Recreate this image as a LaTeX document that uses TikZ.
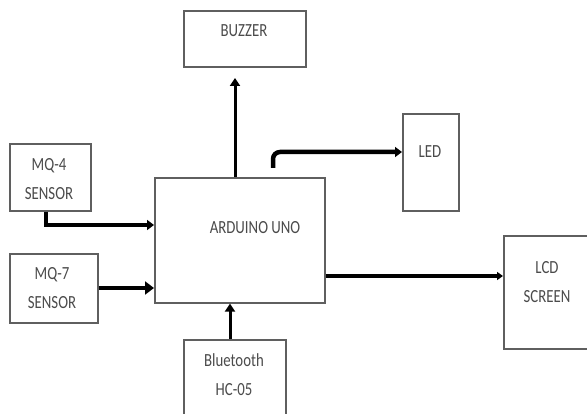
\documentclass[tikz,border=0pt]{standalone}
\usepackage{fontspec}
\setmainfont{Carlito}[FakeStretch=0.8]
\usetikzlibrary{arrows.meta}
\definecolor{boxgray}{RGB}{95,95,95}
\definecolor{txtgray}{RGB}{75,75,75}
\begin{document}
\begin{tikzpicture}[x=1pt,y=-1pt,
  box/.style={draw=boxgray,line width=1.6pt,inner sep=0pt,anchor=north west},
  txt/.style={text=txtgray,font=\fontsize{18.5}{29}\selectfont,align=center,inner sep=0pt},
  fat/.style={line width=4.5pt,-{Triangle[length=7pt,width=10pt]}},
  thin/.style={line width=3pt,-{Triangle[length=8pt,width=10pt]}}]
\useasboundingbox[fill=white] (0,0) rectangle (587,414);
% boxes
\node[box,minimum width=122pt,minimum height=56pt] (buzzer) at (183,10) {};
\node[box,minimum width=81pt,minimum height=67pt] (mq4) at (9,143) {};
\node[box,minimum width=88pt,minimum height=69pt] (mq7) at (9,253) {};
\node[box,minimum width=170pt,minimum height=125pt] (arduino) at (154,177) {};
\node[box,minimum width=56pt,minimum height=97pt] (led) at (402,113) {};
\node[box,minimum width=95pt,minimum height=113pt] (lcd) at (503,235) {};
\node[box,minimum width=102pt,minimum height=85pt] (bt) at (183,339) {};
% texts
\node[txt] (buzzert) at (244,31) {BUZZER};
\node[txt] (mq4t) at (49,179) {MQ-4\\SENSOR};
\node[txt] (mq7t) at (52,288.5) {MQ-7\\SENSOR};
\node[txt] (arduinot) at (255,228) {ARDUINO UNO};
\node[txt] (ledt) at (430,152) {LED};
\node[txt] (lcdt) at (547,282) {LCD\\SCREEN};
\node[txt] (btt) at (234,375) {Bluetooth\\HC-05};
% connectors
\coordinate (buzztip) at (235,78);
\coordinate (ledstart) at (273,168);
\draw[fat] ([xshift=-4.5pt]mq4.south) |- (arduino.west |- 0,225);
\draw[fat,-{Triangle[length=9pt,width=13pt]}] (mq7.east |- 0,288) -- (arduino.west |- 0,288);
\draw[thin] (arduino.north -| buzztip) -- (buzztip);
\draw[fat,rounded corners=7pt] (ledstart) |- (led.west |- 0,152);
\draw[line width=4pt,-{Triangle[length=6pt,width=8pt]}] (arduino.east |- 0,276) -- (lcd.west |- 0,276);
\draw[thin] (bt.north -| 230,0) -- (arduino.south -| 230,0);
\end{tikzpicture}
\end{document}
